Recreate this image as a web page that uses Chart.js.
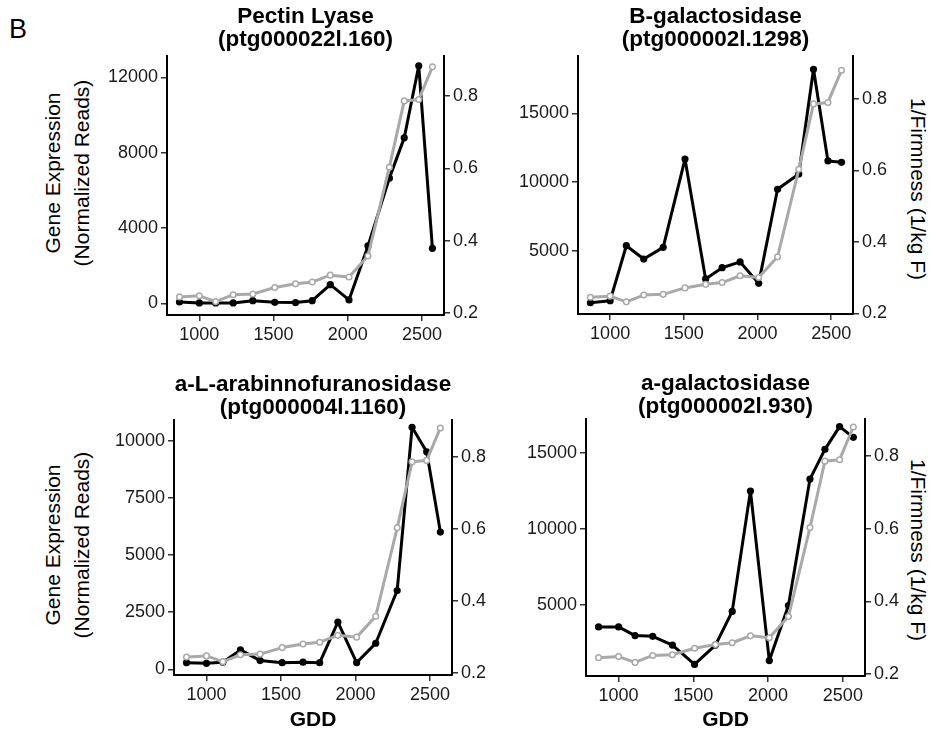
<!DOCTYPE html>
<html>
<head>
<meta charset="utf-8">
<script src="https://cdn.jsdelivr.net/npm/chart.js@4.4.1/dist/chart.umd.min.js"></script>
<style>
    html, body { margin: 0; padding: 0; background: #fff; }
    #page { position: relative; width: 938px; height: 733px; overflow: hidden;
            font-family: 'Liberation Sans', Arial, sans-serif; color: #000; }
    canvas { position: absolute; }
    .lbl { position: absolute; white-space: nowrap; text-align: center; font-size: 21px; }
    .ytitle-left  { width: 280px; height: 58px; line-height: 29px; transform: rotate(-90deg); }
    .ytitle-right { width: 240px; height: 26px; line-height: 26px; transform: rotate(90deg); }
</style>
</head>
<body>
<div id="page">
    <div class="lbl" style="left:9px; top:14px; font-size:27px; line-height:30px;">B</div>

    <div class="lbl ytitle-left" style="left:-73px; top:144px;">Gene Expression<br>(Normalized Reads)</div>
    <div class="lbl ytitle-left" style="left:-73px; top:516px;">Gene Expression<br>(Normalized Reads)</div>

    <div class="lbl ytitle-right" style="left:798px; top:176px;">1/Firmness (1/kg F)</div>
    <div class="lbl ytitle-right" style="left:798px; top:537px;">1/Firmness (1/kg F)</div>
</div>

<script>
// ─── Data ──────────────────────────────────

const gdd      = [866, 1000, 1110, 1228, 1360, 1508, 1648, 1760, 1882, 2008, 2136, 2280, 2380, 2478, 2570];
const firmness = [0.245, 0.248, 0.232, 0.251, 0.253, 0.271, 0.281, 0.286, 0.305, 0.300, 0.358, 0.603, 0.786, 0.790, 0.880];

const pectinLyase    = [70, 20, 20, 20, 140, 50, 40, 140, 990, 180, 3050, 6650, 8790, 12620, 2920];
const bGalactosidase = [1210, 1360, 5360, 4390, 5240, 11670, 2940, 3760, 4180, 2620, 9470, 10580, 18200, 11530, 11430];
const aLArabino      = [290, 260, 310, 850, 380, 290, 310, 290, 2070, 290, 1140, 3450, 10600, 9530, 6010];
const aGalactosidase = [3560, 3560, 2990, 2940, 2370, 1100, 2370, 4580, 12480, 1350, 4960, 13270, 15220, 16710, 16010];

const xTicks    = [1000, 1500, 2000, 2500];
const firmTicks = [0.2, 0.4, 0.6, 0.8];
const ticksP1   = [0, 4000, 8000, 12000];
const ticksP2   = [5000, 10000, 15000];
const ticksP3   = [0, 2500, 5000, 7500, 10000];
const ticksP4   = [5000, 10000, 15000];

// ─── Layout ────────────────────────────────

const FONT = "'Liberation Sans', Arial, sans-serif";
const GRAY = '#a9a9a9';
const LEFT_W = 70, RIGHT_W = 45;
const TITLE_SIZE = 22.5, TITLE_LINE = 23.5;

const panels = [
    { title: ['Pectin Lyase', '(ptg000022l.160)'],         expr: pectinLyase,    yTicks: ticksP1,
      yMin: -622, yMax: 13140, fMin: 0.195, fMax: 0.910, area: { l: 167, t: 56,  r: 444, b: 315 },
      titlePad: { top: 4.75, bottom: 4.25 }, gddTitle: false },
    { title: ['B-galactosidase', '(ptg000002l.1298)'],     expr: bGalactosidase, yTicks: ticksP2,
      yMin: 390,  yMax: 19170, fMin: 0.198, fMax: 0.920, area: { l: 578, t: 56,  r: 853, b: 314 },
      titlePad: { top: 4.75, bottom: 4.25 }, gddTitle: false },
    { title: ['a-L-arabinnofuranosidase', '(ptg000004l.1160)'], expr: aLArabino, yTicks: ticksP3,
      yMin: -250, yMax: 10920, fMin: 0.195, fMax: 0.902, area: { l: 174, t: 420, r: 452, b: 675 },
      titlePad: { top: 9, bottom: 0 }, gddTitle: true },
    { title: ['a-galactosidase', '(ptg000002l.930)'],      expr: aGalactosidase, yTicks: ticksP4,
      yMin: 338,  yMax: 17213, fMin: 0.1945, fMax: 0.902, area: { l: 586, t: 419, r: 865, b: 676 },
      titlePad: { top: 9, bottom: 0 }, gddTitle: true }
];

const toPoints = vals => gdd.map((g, i) => ({ x: g, y: vals[i] }));

function axisBase(tickList, fmt) {
    return {
        border: { display: true, color: '#000', width: 2 },
        grid:   { drawOnChartArea: false, drawTicks: true, tickLength: 6, color: '#333', lineWidth: 1.5 },
        ticks:  { font: { family: FONT, size: 18 }, color: '#1a1a1a', padding: 3, autoSkip: false, callback: fmt },
        afterBuildTicks: s => { s.ticks = tickList.map(v => ({ value: v })); }
    };
}

function buildPanel(p) {
    const page   = document.getElementById('page');
    const cv     = document.createElement('canvas');
    const xH     = p.gddTitle ? 733 - p.area.b : 40;
    const titleH = 2 * TITLE_LINE + p.titlePad.top + p.titlePad.bottom;

    cv.width  = p.area.r - p.area.l + LEFT_W + RIGHT_W;
    cv.height = Math.round(p.area.b - p.area.t + titleH + xH);
    cv.style.left = (p.area.l - LEFT_W) + 'px';
    cv.style.top  = (p.area.t - titleH) + 'px';
    page.appendChild(cv);

    new Chart(cv, {
        type: 'line',
        data: {
            datasets: [
                {
                    label: '1/Firmness',
                    yAxisID: 'yF',
                    data: toPoints(firmness),
                    borderColor: GRAY,
                    borderWidth: 3,
                    borderJoinStyle: 'round',
                    pointRadius: 2.8,
                    pointBorderWidth: 1.5,
                    pointBorderColor: GRAY,
                    pointBackgroundColor: '#fff',
                    order: 0
                },
                {
                    label: 'Gene Expression',
                    yAxisID: 'y',
                    data: toPoints(p.expr),
                    borderColor: '#000',
                    borderWidth: 3,
                    borderJoinStyle: 'round',
                    pointRadius: 3.6,
                    pointBorderWidth: 0,
                    pointBackgroundColor: '#000',
                    order: 1
                }
            ]
        },
        options: {
            responsive: false,
            animation: false,
            devicePixelRatio: 1,
            layout: { padding: 0 },
            plugins: {
                legend:  { display: false },
                tooltip: { enabled: false },
                title: {
                    display: true,
                    text: p.title,
                    fullSize: false,
                    color: '#000',
                    font: { family: FONT, size: TITLE_SIZE, weight: 'bold', lineHeight: TITLE_LINE / TITLE_SIZE },
                    padding: p.titlePad
                }
            },
            scales: {
                x: {
                    type: 'linear', min: 782, max: 2648,
                    ...axisBase(xTicks, v => String(v)),
                    afterFit: s => { s.height = xH; },
                    title: {
                        display: p.gddTitle, text: 'GDD', color: '#000',
                        font: { family: FONT, size: 21, weight: 'bold' },
                        padding: { top: 0, bottom: 0 }
                    }
                },
                y: {
                    position: 'left', min: p.yMin, max: p.yMax,
                    ...axisBase(p.yTicks, v => String(v)),
                    afterFit: s => { s.width = LEFT_W; }
                },
                yF: {
                    position: 'right', min: p.fMin, max: p.fMax,
                    ...axisBase(firmTicks, v => v.toFixed(1)),
                    afterFit: s => { s.width = RIGHT_W; }
                }
            }
        }
    });
}

panels.forEach(buildPanel);
</script>
</body>
</html>
